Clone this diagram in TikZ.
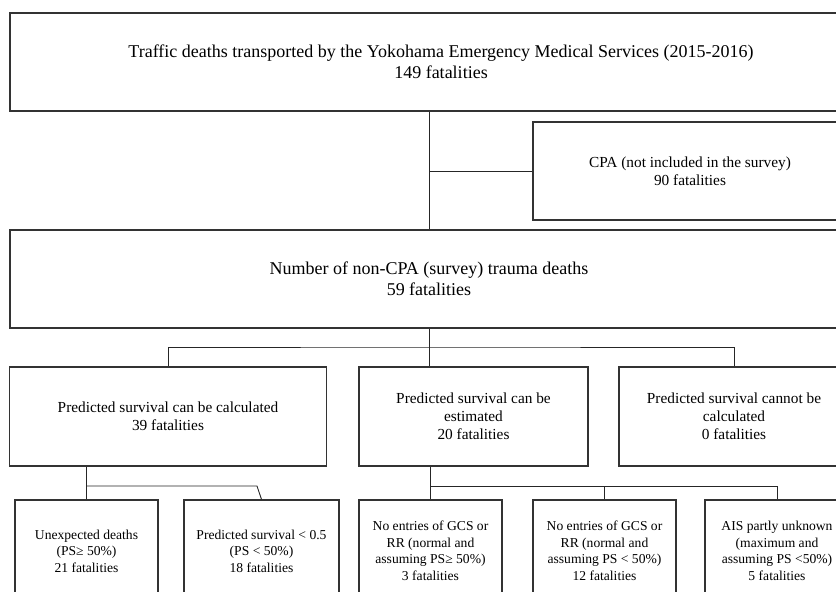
\documentclass[tikz,border=0pt]{standalone}
\usepackage{fontspec}
\setmainfont{Liberation Serif}

\begin{document}
\begin{tikzpicture}[x=0.75pt,y=-0.75pt]
   \tikzstyle{every node}=[draw=black!80, line width=0.8pt, rectangle, align=center, inner sep=0pt, text=black]
   \tikzstyle{bigbox}=[minimum height=73.5pt, font=\fontsize{13.5}{15.75}\selectfont]
   \tikzstyle{midbox}=[minimum height=74.25pt, font=\fontsize{11.5}{13.5}\selectfont]
   \tikzstyle{lowbox}=[minimum height=76.5pt, font=\fontsize{10.2}{12.4}\selectfont]
   \tikzstyle{link}=[draw=black!85, line width=0.7pt]

\useasboundingbox (0,0) rectangle (836,592);
\clip (0,0) rectangle (836,592);

\node[bigbox, minimum width=646.5pt] (deaths) at (441,62) {Traffic deaths transported by the Yokohama Emergency Medical Services (2015-2016)\\149 fatalities};
\node[midbox, minimum width=235.5pt, minimum height=73.5pt] (cpa) at (690,171) {CPA (not included in the survey)\\90 fatalities};
\node[bigbox, minimum width=628.5pt] (survey) at (429,279) {Number of non-CPA (survey) trauma deaths\\59 fatalities};

\node[midbox, minimum width=237.75pt] (calc) at (168,416.5) {Predicted survival can be calculated\\39 fatalities};
\node[midbox, minimum width=171.75pt] (estim) at (473.5,416.5) {Predicted survival can be\\estimated\\20 fatalities};
\node[midbox, minimum width=172.5pt] (nocalc) at (734,416.5) {Predicted survival cannot be\\calculated\\0 fatalities};

\node[lowbox, minimum width=107.25pt] (unexp) at (86.5,551) {Unexpected deaths\\(PS≥ 50\%)\\21 fatalities};
\node[lowbox, minimum width=116.25pt] (lowps) at (261.5,551) {Predicted survival < 0.5\\(PS < 50\%)\\18 fatalities};
\node[lowbox, minimum width=107.25pt] (gcshi) at (430.5,551) {No entries of GCS or\\RR (normal and\\assuming PS≥ 50\%)\\3 fatalities};
\node[lowbox, minimum width=107.25pt] (gcslo) at (604.5,551) {No entries of GCS or\\RR (normal and\\assuming PS < 50\%)\\12 fatalities};
\node[lowbox, minimum width=108pt] (ais) at (777,551) {AIS partly unknown\\(maximum and\\assuming PS <50\%)\\5 fatalities};

\coordinate (split) at (430,347);
\coordinate (lowbar) at (0,486);
\coordinate (kink) at (257,486);

\draw[link] (deaths.south -| survey.north) -- (survey.north);
\draw[link] (cpa.west) -- (cpa.west -| survey.north);
\draw[link] (survey.south) -- (survey.south |- estim.north);
\draw[link] (calc.north) |- (split) -| (nocalc.north);
\draw[link] (unexp.north) -- (unexp.north |- calc.south);
\draw[link] (unexp.north |- lowbar) -- (kink) -- (lowps.north);
\draw[link] (gcshi.north) -- (gcshi.north |- estim.south);
\draw[link] (gcshi.north |- lowbar) -| (ais.north);
\draw[link] (gcslo.north) -- (gcslo.north |- lowbar);

\end{tikzpicture}
\end{document}
